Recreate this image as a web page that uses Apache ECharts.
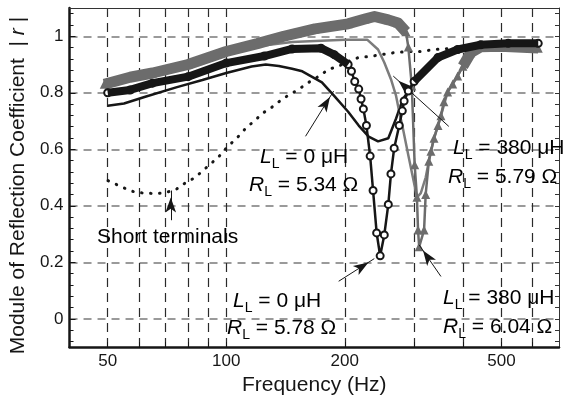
<!DOCTYPE html>
<html>
<head>
<meta charset="utf-8">
<script src="https://cdn.jsdelivr.net/npm/echarts@6/dist/echarts.min.js"></script>
<style>
    html, body {margin: 0; padding: 0; background: #fff;}
    #chart {width: 565px; height: 401px;}
</style>
</head>
<body>
<div id="chart"></div>
<script>
    // 坐标轴刻度
    const freqLabels = [50, 100, 200, 500];
    const freqGrid = [50, 60, 70, 80, 90, 100, 200, 300, 400, 500, 600];
    const rMajor = [0, 0.2, 0.4, 0.6, 0.8, 1];
    const rMinor = [-0.08, -0.04, 0, 0.04, 0.08, 0.12, 0.16, 0.2, 0.24, 0.28, 0.32, 0.36, 0.4, 0.44,
        0.48, 0.52, 0.56, 0.6, 0.64, 0.68, 0.72, 0.76, 0.8, 0.84, 0.88, 0.92, 0.96, 1, 1.04, 1.08];

    // L = 0 uH, R = 5.78 Ohm (圆圈)
    const seriesA = [[50, 0.80], [57, 0.81], [65, 0.834], [80, 0.857], [100, 0.905], [125, 0.93],
        [147, 0.955], [174, 0.958], [188, 0.935], [204, 0.90], [208, 0.876], [212, 0.84], [217, 0.813],
        [220, 0.778], [223, 0.743], [227, 0.684], [232, 0.576], [236, 0.454], [241, 0.304], [246, 0.223],
        [252, 0.297], [258, 0.405], [262, 0.513], [267, 0.604], [275, 0.684], [280, 0.736], [283, 0.771],
        [290, 0.806], [300, 0.84], [345, 0.925], [387, 0.953], [443, 0.97], [520, 0.975], [620, 0.975]];
    const denseA = [204, 300];

    // L = 380 uH, R = 6.04 Ohm (三角)
    const seriesB = [[49, 0.83], [57, 0.855], [65, 0.87], [80, 0.90], [100, 0.946], [120, 0.974],
        [140, 1.0], [168, 1.026], [204, 1.044], [225, 1.061], [238, 1.07], [258, 1.058], [273, 1.047],
        [286, 1.016], [290, 0.962], [296, 0.824], [301, 0.545], [305, 0.43], [307, 0.314], [309, 0.255],
        [318, 0.314], [321, 0.44], [327, 0.558], [331, 0.593], [337, 0.639], [345, 0.684], [351, 0.719],
        [357, 0.768], [365, 0.803], [376, 0.831], [387, 0.859], [399, 0.894], [418, 0.942], [443, 0.963],
        [497, 0.965], [620, 0.958]];
    const denseB = [286, 399];

    // L = 380 uH, R = 5.79 Ohm (灰色实线)
    const seriesC = [[50, 0.825], [65, 0.86], [80, 0.89], [100, 0.935], [120, 0.965], [147, 0.98],
        [200, 0.988], [228, 0.988], [243, 0.953], [252, 0.907], [262, 0.848], [270, 0.789], [275, 0.733],
        [281, 0.674], [291, 0.569], [300, 0.48], [305, 0.43], [312, 0.445], [321, 0.50], [327, 0.558],
        [337, 0.639], [351, 0.719], [365, 0.803], [387, 0.862], [418, 0.94], [443, 0.958], [620, 0.958]];

    // L = 0 uH, R = 5.34 Ohm (黑色实线)
    const seriesD = [[50, 0.754], [55, 0.762], [62, 0.785], [75, 0.82], [87, 0.845], [100, 0.87],
        [116, 0.893], [126, 0.90], [136, 0.895], [147, 0.885], [156, 0.876], [175, 0.837], [188, 0.789],
        [204, 0.733], [217, 0.684], [230, 0.645], [243, 0.628], [258, 0.639], [270, 0.709], [281, 0.778],
        [295, 0.82], [310, 0.86]];

    // 端子短路 (点线)
    const seriesE = [[50.1, 0.489], [56.3, 0.457], [59, 0.447], [62.5, 0.445], [66.3, 0.443],
        [70.2, 0.447], [74.4, 0.457], [78.9, 0.482], [83.1, 0.499], [87, 0.523], [91.2, 0.548],
        [95.5, 0.572], [98.9, 0.597], [103.6, 0.625], [108, 0.649], [113, 0.68], [118.5, 0.702],
        [123, 0.726], [129, 0.743], [136, 0.768], [143, 0.789], [153, 0.813], [162, 0.837], [172, 0.859],
        [182, 0.883], [193, 0.894], [204, 0.911], [217, 0.925], [230, 0.928], [248, 0.935], [267, 0.942],
        [290, 0.946], [312, 0.946], [337, 0.953], [400, 0.96], [500, 0.965], [620, 0.97]];

    // 标注箭头 (起点, 终点)
    const arrows = [
        [[72.3, 0.349], [72.3, 0.454]],
        [[159, 0.646], [187.4, 0.806]],
        [[193, 0.133], [237.7, 0.213]],
        [[367.5, 0.681], [265.6, 0.859]],
        [[351, 0.150], [308.8, 0.262]]
    ];

    // 标注文字
    const notes = [
        {x: 97, y: 237, text: '{n|Short terminals}'},
        {x: 260, y: 157, text: '{i|L}{s|L}{n| = 0 μH}'},
        {x: 249, y: 185, text: '{i|R}{s|L}{n| = 5.34 Ω}'},
        {x: 233, y: 301, text: '{i|L}{s|L}{n| = 0 μH}'},
        {x: 227, y: 328, text: '{i|R}{s|L}{n| = 5.78 Ω}'},
        {x: 453, y: 148, text: '{i|L}{s|L}{n| = 380 μH}'},
        {x: 448, y: 177, text: '{i|R}{s|L}{n| = 5.79 Ω}'},
        {x: 443, y: 298, text: '{i|L}{s|L}{n| = 380 μH}'},
        {x: 443, y: 327, text: '{i|R}{s|L}{n| = 6.04 Ω}'}
    ];

    const FONT = '"Liberation Sans", Arial, sans-serif';
    const BLACK = '#161616';
    const GRAY = '#6c6c6c';

    // 密集区域用粗线代替重叠的标记
    const bandOf = function (data, gap) {
        return data.map(function (p) {
            return (p[0] <= gap[0] || p[0] >= gap[1]) ? p : [p[0], '-'];
        });
    };

    const noteRich = {
        n: {fontSize: 21, fontFamily: FONT, color: BLACK, lineHeight: 28},
        i: {fontSize: 21, fontFamily: FONT, fontStyle: 'italic', color: BLACK, lineHeight: 28},
        s: {fontSize: 14, fontFamily: FONT, color: BLACK, lineHeight: 11, verticalAlign: 'bottom'}
    };

    const chart = echarts.init(document.getElementById('chart'));

    const logAxis = {
        type: 'log',
        logBase: 10,
        min: 40,
        max: 700
    };
    const rAxis = {
        type: 'value',
        min: -0.1,
        max: 1.1
    };

    const option = {
        animation: false,
        backgroundColor: '#fff',
        grid: {left: 66, right: 6, top: 8, bottom: 49},
        xAxis: [
            Object.assign({}, logAxis, {
                position: 'bottom',
                name: 'Frequency (Hz)',
                nameLocation: 'middle',
                nameGap: 27,
                nameTextStyle: {fontSize: 21, fontFamily: FONT, color: BLACK},
                axisLine: {onZero: false, lineStyle: {color: BLACK, width: 2.5}},
                axisTick: {inside: true, length: 5, customValues: freqGrid, lineStyle: {color: BLACK, width: 1}},
                axisLabel: {customValues: freqLabels, fontSize: 17, fontFamily: FONT, color: BLACK, margin: 6},
                splitLine: {show: true, lineStyle: {color: '#2a2a2a', width: 1.2, type: [9, 6]}},
                minorTick: {show: false},
                minorSplitLine: {show: false}
            }),
            Object.assign({}, logAxis, {
                position: 'top',
                axisLine: {onZero: false, lineStyle: {color: '#333', width: 1}},
                axisTick: {inside: true, length: 4, customValues: freqGrid, lineStyle: {color: '#333'}},
                axisLabel: {show: false},
                splitLine: {show: false}
            })
        ],
        yAxis: [
            Object.assign({}, rAxis, {
                position: 'left',
                name: 'Module of Reflection Coefficient  | {i|r} |',
                nameLocation: 'middle',
                nameGap: 38,
                nameTextStyle: {
                    fontSize: 21, fontFamily: FONT, color: BLACK,
                    padding: [0, 16, 0, 0],
                    rich: {i: {fontSize: 21, fontFamily: FONT, fontStyle: 'italic', color: BLACK}}
                },
                axisLine: {onZero: false, lineStyle: {color: BLACK, width: 2.5}},
                axisTick: {inside: true, length: 6, customValues: rMajor, lineStyle: {color: BLACK}},
                axisLabel: {customValues: rMajor, fontSize: 17, fontFamily: FONT, color: BLACK, margin: 6},
                splitLine: {show: true, lineStyle: {color: '#7a7a7a', width: 1.5, type: [8, 6]}}
            }),
            Object.assign({}, rAxis, {
                position: 'left',
                axisLine: {show: false, onZero: false},
                axisTick: {inside: true, length: 4, customValues: rMinor, lineStyle: {color: BLACK}},
                axisLabel: {show: false},
                splitLine: {show: false}
            }),
            Object.assign({}, rAxis, {
                position: 'right',
                axisLine: {onZero: false, lineStyle: {color: '#333', width: 1}},
                axisTick: {inside: true, length: 4, customValues: rMinor, lineStyle: {color: '#333'}},
                axisLabel: {show: false},
                splitLine: {show: false}
            })
        ],
        series: [
            {
                name: 'Short terminals',
                type: 'line',
                data: seriesE,
                showSymbol: false,
                z: 2,
                lineStyle: {color: BLACK, width: 3, type: [0.5, 8.5], cap: 'round'}
            },
            {
                name: 'L0 R5.34',
                type: 'line',
                data: seriesD,
                showSymbol: false,
                z: 3,
                lineStyle: {color: BLACK, width: 2.5}
            },
            {
                name: 'L380 R5.79',
                type: 'line',
                data: seriesC,
                showSymbol: false,
                z: 3,
                lineStyle: {color: '#7c7c7c', width: 2.5}
            },
            {
                name: 'L380 R6.04',
                type: 'line',
                data: seriesB,
                symbol: 'triangle',
                symbolSize: 9,
                z: 4,
                itemStyle: {color: GRAY},
                lineStyle: {color: GRAY, width: 2.5}
            },
            {
                name: 'L380 R6.04 band',
                type: 'line',
                data: bandOf(seriesB, denseB),
                showSymbol: false,
                z: 5,
                lineStyle: {color: GRAY, width: 11, join: 'round'}
            },
            {
                name: 'L0 R5.78',
                type: 'line',
                data: seriesA,
                symbol: 'emptyCircle',
                symbolSize: 7,
                z: 6,
                itemStyle: {color: BLACK, borderWidth: 2},
                lineStyle: {color: BLACK, width: 2.5}
            },
            {
                name: 'L0 R5.78 band',
                type: 'line',
                data: bandOf(seriesA, denseA),
                showSymbol: false,
                z: 7,
                lineStyle: {color: BLACK, width: 8, join: 'round'},
                markLine: {
                    silent: true,
                    symbol: ['none', 'arrow'],
                    label: {show: false},
                    lineStyle: {color: BLACK, width: 1, type: 'solid'},
                    data: arrows.map(function (a) {
                        return [
                            {coord: a[0], symbol: 'none'},
                            {coord: a[1], symbol: 'arrow', symbolSize: [8, 15], symbolOffset: [0, 7]}
                        ];
                    })
                }
            }
        ],
        graphic: notes.map(function (t) {
            return {
                type: 'text',
                x: t.x,
                y: t.y,
                z: 100,
                style: {text: t.text, rich: noteRich, verticalAlign: 'middle', align: 'left'}
            };
        })
    };

    chart.setOption(option);
</script>
</body>
</html>
